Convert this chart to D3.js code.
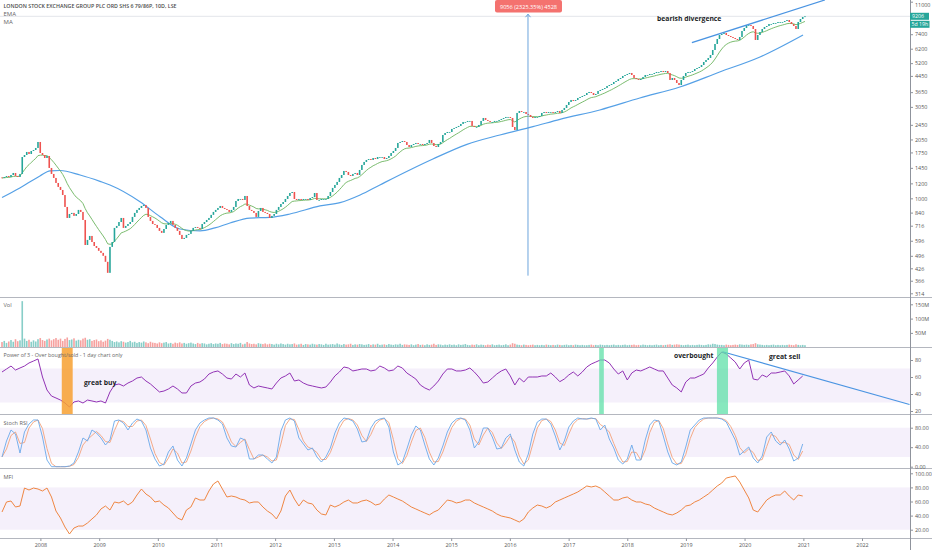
<!DOCTYPE html>
<html><head><meta charset="utf-8">
<script src="https://cdn.jsdelivr.net/npm/d3@7"></script>
<style>html,body{margin:0;padding:0;background:#fff;}svg{display:block;font-family:"Open Sans","Noto Sans",sans-serif;}</style>
</head><body><svg id="c" width="932" height="550"></svg>
<script>
// ---------------- DATA ----------------
const barStart = "2007-05-07";
const barStepDays = 14;           // 10 trading-day bars
const firstOpen = 1290;
const closes = [
1282,1297,1313,1297,1329,1362,1313,1297,1346,1655,
1696,1760,1717,1781,1803,1848,1988,1738,1696,1635,
1676,1448,1346,1282,1206,1149,1107,1041,900,787,
826,837,807,826,868,847,768,566,602,632,
587,559,546,527,514,496,461,403,553,587,
697,714,749,787,697,714,731,749,797,837,
868,889,911,922,889,797,759,731,723,697,
672,656,688,723,740,759,723,697,672,640,
609,617,640,648,672,697,705,697,688,731,
749,768,787,817,847,868,889,911,889,878,
868,847,868,900,968,992,992,980,1029,911,
868,857,837,797,857,889,847,837,826,787,
807,826,868,900,933,956,992,1029,1067,1080,
992,980,992,980,992,992,980,1004,1016,1067,
980,980,992,992,992,1029,1080,1135,1177,1221,
1282,1329,1396,1379,1329,1313,1346,1362,1329,1413,
1502,1558,1596,1615,1596,1635,1615,1655,1655,1655,
1615,1635,1676,1738,1781,1848,1964,1988,2012,1988,
1916,1870,1916,1940,1964,1940,1940,1916,1940,1964,
2037,1964,1893,1870,1940,1988,2165,2218,2246,2246,
2330,2358,2387,2417,2476,2537,2537,2569,2569,2417,
2387,2387,2446,2569,2664,2600,2569,2537,2537,2569,
2569,2600,2632,2664,2697,2697,2664,2387,2301,2832,
2901,2866,2866,2797,2763,2697,2664,2697,2697,2730,
2832,2866,2832,2866,2866,2832,2866,2901,2832,2937,
3010,3122,3238,3318,3278,3318,3400,3441,3484,3526,
3613,3658,3613,3526,3570,3703,3748,3794,3840,3935,
3983,4032,4132,4183,4286,4339,4446,4500,4555,4611,
4500,4339,4286,4234,4286,4392,4500,4500,4555,4555,
4611,4668,4668,4725,4668,4725,4611,4234,4339,4234,
4082,3983,4234,4446,4611,4668,4668,4725,4841,4901,
4961,5083,5273,5403,5537,5743,6104,6568,6980,7329,
7419,7510,7329,7240,7153,7066,6980,6896,7153,7696,
7982,8279,8279,8179,7885,6896,7329,7602,7885,8080,
8179,8381,8381,8484,8484,8588,8588,8588,8693,8800,
8588,8381,8179,7885,8588,8907,9127,9206];
const volumesM = [
18,22,15,20,25,19,28,21,24,161,30,22,26,19,24,20,28,32,25,22,
27,30,24,28,32,26,30,22,29,34,25,27,31,23,26,24,30,33,26,28,
22,25,27,21,24,19,23,29,26,22,18,20,17,21,19,16,18,22,17,19,
15,18,16,20,17,14,19,16,15,13,17,14,16,18,13,15,12,16,14,17,
13,15,12,14,16,13,11,15,12,14,13,10,12,14,11,13,12,15,11,13,
12,10,14,11,13,12,15,10,12,18,13,11,12,10,14,12,11,13,10,12,
11,9,12,10,13,11,9,12,10,11,13,9,10,12,8,11,10,9,12,10,
9,11,10,8,12,9,10,11,9,13,10,8,11,9,10,12,8,10,9,11,
10,8,9,11,8,10,9,12,8,9,10,8,11,9,8,10,9,12,8,10,
9,8,10,7,9,11,8,9,7,10,8,9,12,8,10,9,7,9,8,10,
8,9,7,10,8,9,11,8,7,9,8,10,7,9,8,7,9,8,10,7,
8,9,7,8,10,7,9,14,12,9,8,7,9,8,7,8,9,7,8,7,
8,7,9,8,7,8,7,9,8,7,8,9,7,8,7,9,8,7,8,7,
7,8,9,7,8,7,9,8,7,8,7,8,9,7,8,7,8,9,7,8,
8,9,7,8,7,9,8,7,8,7,8,9,7,8,7,8,9,10,8,9,
10,9,8,7,8,9,7,8,7,8,9,8,7,8,10,9,12,11,9,8,
8,7,9,8,7,8,9,8,10,9,8,9,8,10,11,14,10,9,8,7,
8,7,8,9,7,8,7,8,7,8,9,8,7,10,8,7,8,7];
const indicatorStep = 2;          // one indicator value every 2nd bar
const power3 = [
65.9,69.4,72.9,68.2,70.6,72.9,76.5,78.8,81.2,60,
44.7,37.6,35.3,32.9,29.4,24.7,30.6,31.8,29.4,32.9,
31.8,30.6,31.8,29.4,42.4,50.6,51.8,49.4,52.9,55.3,
58.8,60,55.3,51.8,47.1,42.4,43.5,45.9,49.4,45.9,
41.2,41.2,49.4,52.9,54.1,57.6,63.5,65.9,67.1,63.5,
58.8,57.6,63.5,60,64.7,50.6,47.1,49.4,48.2,47.1,
45.9,52.9,58.8,61.2,64.7,55.3,56.5,52.9,50.6,49.4,
48.2,47.1,48.2,54.1,61.2,65.9,71.8,70.6,67.1,68.2,
69.4,69.4,67.1,68.2,72.9,70.6,67.1,68.2,72.9,70.6,
64.7,61.2,57.6,50.6,47.1,44.7,49.4,55.3,63.5,69.4,
69.4,67.1,67.1,68.2,70.6,65.9,60,52.9,54.1,58.8,
63.5,67.1,69.4,61.2,50.6,58.8,54.1,60,60,60,
61.2,61.2,64.7,60,54.5,57.6,62.4,65.9,61.2,65.9,
71.8,75.3,77.6,80,80,76.5,69.4,63.5,67.1,56.5,
64.7,68.2,67.1,69.4,71.8,69.4,67.1,67.1,58.8,50.6,
47.1,42.4,54.1,58.8,58.8,61.2,63.5,70.6,76.5,83.5,
89.4,87.1,82.4,77.6,69.4,76.5,80,57.6,56.5,62.4,
60,64.7,64.7,65.9,67.1,61.2,51.8,56.5,61.2];
const stochK = [
19.9,52.7,75.3,67.1,28.1,71.2,87.6,95.8,95.8,60.9,
13.7,0,0,0,0,1.4,7.6,30.2,58.9,52.7,
75.3,69.1,58.9,44.5,54.8,93.7,95.8,89.6,75.3,89.6,
97.8,93.7,75.3,38.4,15.8,1.4,5.5,30.2,42.5,13.7,
1.4,17.8,46.6,75.3,89.6,95.8,99.9,99.9,95.8,87.6,
58.9,42.5,40.4,58.9,54.8,15.8,15.8,24,24,15.8,
7.6,19.9,73.2,95.8,99.9,93.7,58.9,46.6,34.3,38.4,
19.9,9.6,19.9,38.4,69.1,89.6,99.9,97.8,93.7,77.3,
50.7,52.7,79.4,93.7,97.8,99.9,81.4,30.2,3.5,9.6,
36.3,65,83.5,75.3,44.5,15.8,3.5,17.8,42.5,71.2,
89.6,97.8,99.9,95.8,75.3,38.4,50.7,79.4,79.4,60.9,
36.3,38.4,58.9,67.1,34.3,9.6,1.4,26,67.1,91.7,
97.8,97.8,87.6,63,34.3,52.7,81.4,93.7,99.9,97.8,
97.8,99.9,97.8,75.3,85.5,56.8,38.4,13.7,5.5,15.8,
44.5,13.7,13.7,54.8,85.5,95.8,93.7,63,30.2,7.6,
3.5,9.6,40.4,75.3,85.5,95.8,99.9,99.9,99.9,99.9,
97.8,91.7,73.2,54.8,24,32.2,40.4,17.8,7.6,21.9,
60.9,71.2,52.7,44.5,54.8,36.3,11.7,17.8,46.6];
const mfi = [
45.1,59.3,60.7,52.2,53.6,79.1,76.3,79.1,77.7,74.9,
79.1,66.4,46.5,36.6,23.8,13.9,22.4,25.2,25.2,29.5,
35.2,40.9,49.4,53.6,47.9,59.3,57.9,60.7,55,59.3,
69.2,77.7,70.6,66.4,59.3,60.7,55,50.8,43.7,36.6,
33.8,47.9,52.2,65,62.1,62.1,74.9,84.8,89.1,77.7,
66.4,67.8,66.4,63.5,62.1,57.9,59.3,59.3,52.2,46.5,
42.3,35.2,46.5,67.8,76.3,63.5,53.6,62.1,57.9,56.5,
47.9,42.3,40.9,55,52.2,55,59.3,62.1,57.9,57.9,
60.7,62.1,59.3,55,56.5,63.5,69.2,66.4,63.5,60.7,
56.5,52.2,49.4,46.5,43.7,40.9,45.1,47.9,55,62.1,
60.7,57.9,59.3,62.1,62.1,57.9,55,52.2,49.4,46.5,
42.3,39.4,38,36.6,33.8,30.9,35.2,45.1,50.8,55,
53.6,50.8,53.6,59.3,62.1,65,67.8,70.6,73.5,77.7,
82,80.6,82,79.1,73.5,67.8,62.1,62.1,65,66.4,
62.1,59.3,59.3,56.5,55,50.8,47.9,45.1,42.3,40.9,
43.7,47.9,53.6,55,59.3,62.1,66.4,70.6,76.3,82,
86.2,93.3,94.8,96.2,87.7,76.3,65,47.9,45.1,53.6,
62.1,66.4,69.2,69.2,74.9,67.8,62.1,69.2,67.8];
const maDates = ["2007-05-07","2007-08-26","2007-12-29","2008-03-01","2008-05-02","2008-09-04","2009-01-06","2009-03-09","2009-09-12","2010-01-15","2010-05-19","2010-09-21","2010-12-22","2011-03-26","2011-07-27","2011-11-29","2012-04-02","2012-10-06","2013-02-08","2013-06-13","2013-10-14","2014-04-18","2014-09-09","2015-04-09","2015-10-31","2016-05-24","2016-11-08","2017-07-14","2018-03-20","2018-11-24","2019-07-30","2020-04-06","2020-12-30"];
const maValues = [1010,1135,1313,1397,1404,1329,1230,1177,960,799,688,672,697,740,786,793,826,911,948,1041,1177,1413,1615,1932,2165,2395,2621,2937,3400,3887,4667,5605,7328];
const emaPeriod = 12;
const priceTicks = [11000,7400,6200,5200,4450,3650,3050,2450,2050,1750,1450,1200,1000,840,716,596,496,426,366,314];
const volTicks = [50,100,150];
const powTicks = [20,40,60,80];
const stochTicks = [0,40,80];
const mfiTicks = [20,40,60,80,100];
const yearTicks = [2008,2009,2010,2011,2012,2013,2014,2015,2016,2017,2018,2019,2020,2021,2022];
const channelTop = {d:["2019-02-07","2021-05-15"], v:[6673,11230]};
const measure = {d:"2016-04-23", lo:389.4, hi:9445, label:"9056 (2325.35%) 4528"};
const powTrend = {d:["2019-08-17","2022-10-24"], v:[89.8,27.6]};
const highlights = [
  {from:"2008-05-13", to:"2008-07-20", color:"#f7a030", op:0.85},
  {from:"2017-07-10", to:"2017-08-08", color:"#5fe0a8", op:0.75},
  {from:"2019-07-13", to:"2019-09-20", color:"#5fe0a8", op:0.75}];
const title = "LONDON STOCK EXCHANGE GROUP PLC ORD SHS 6 79/86P, 10D, LSE";

// ---------------- SETUP ----------------
const parse = d3.timeParse("%Y-%m-%d");
const svg = d3.select("#c");
const AX = 910;
const x = d3.scaleTime().domain([new Date(2008,0,1), new Date(2022,0,1)]).range([40.4, 862]);
const yP = d3.scaleLog().domain([314, 11000]).range([293.3, 1.7]);
const yV = d3.scaleLinear().domain([0,150]).range([347.2, 304.3]);
const yPow = d3.scaleLinear().domain([20,80]).range([411,360]);
const yS = d3.scaleLinear().domain([0,80]).range([466.7,427.7]);
const yM = d3.scaleLinear().domain([20,100]).range([529.7,473.3]);

const t0 = parse(barStart);
const barDates = closes.map((_,i)=>d3.timeDay.offset(t0, i*barStepDays));
const opens = closes.map((c,i)=> i ? closes[i-1] : firstOpen);
const indDates = power3.map((_,j)=>barDates[j*indicatorStep]);

const panes = {main:[0,297], vol:[298,347], pow:[348,414], stoch:[415,468], mfi:[469,538]};
const defs = svg.append("defs");
Object.entries(panes).forEach(([k,[a,b]])=>{
  defs.append("clipPath").attr("id","cp-"+k).append("rect").attr("x",0).attr("y",a).attr("width",AX).attr("height",b-a);
});
const G = k => svg.append("g").attr("clip-path",`url(#cp-${k})`);

const green="#26a69a", red="#ef5350";

// ---------------- MAIN PANE ----------------
const gm = G("main");
gm.append("line").attr("x1",0).attr("x2",AX).attr("y1",yP(closes[closes.length-1])).attr("y2",yP(closes[closes.length-1]))
  .attr("stroke","#e3e5ea").attr("stroke-width",1);
gm.append("path").datum(maDates.map((d,i)=>[parse(d),maValues[i]]))
  .attr("d",d3.line().x(d=>x(d[0])).y(d=>yP(d[1])).curve(d3.curveMonotoneX))
  .attr("fill","none").attr("stroke","#55a0e6").attr("stroke-width",1.2);
const kE = 2/(emaPeriod+1); const ema=[];
closes.forEach((c,i)=>ema.push(i? c*kE+ema[i-1]*(1-kE) : c));
gm.append("path").datum(ema).attr("d",d3.line().x((d,i)=>x(barDates[i])).y(d=>yP(d)))
  .attr("fill","none").attr("stroke","#6cb45f").attr("stroke-width",0.9);
gm.selectAll("rect.c").data(closes).join("rect").attr("class","c")
  .attr("x",(d,i)=>x(barDates[i])-0.8).attr("width",1.6)
  .attr("y",(d,i)=>yP(Math.max(d,opens[i])))
  .attr("height",(d,i)=>Math.max(0.8, Math.abs(yP(d)-yP(opens[i]))))
  .attr("fill",(d,i)=> d>=opens[i]?green:red);
gm.append("line").attr("x1",x(parse(channelTop.d[0]))).attr("y1",yP(channelTop.v[0]))
  .attr("x2",x(parse(channelTop.d[1]))).attr("y2",yP(channelTop.v[1]))
  .attr("stroke","#4a94e2").attr("stroke-width",1.3);
const mx = x(parse(measure.d));
svg.append("line").attr("x1",mx).attr("x2",mx).attr("y1",yP(measure.hi)).attr("y2",yP(measure.lo))
  .attr("stroke","#5b9bd8").attr("stroke-width",0.9);
svg.append("path").attr("d",`M${mx-2.5},${yP(measure.hi)+3}L${mx},${yP(measure.hi)}L${mx+2.5},${yP(measure.hi)+3}`)
  .attr("fill","none").attr("stroke","#5b9bd8").attr("stroke-width",0.9);
svg.append("rect").attr("x",mx-33).attr("y",0).attr("width",67).attr("height",12.5).attr("rx",2)
  .attr("fill","#f4726f");
svg.append("text").attr("x",mx+0.5).attr("y",8.6).attr("text-anchor","middle").attr("font-size",5.6)
  .attr("fill","#fff").text(measure.label);
svg.append("text").attr("x",657).attr("y",20.5).attr("font-size",6.8).attr("font-weight","bold")
  .attr("fill","#1b1e27").text("bearish divergence");
svg.append("text").attr("x",3.5).attr("y",8.4).attr("font-size",5.6).attr("font-weight","600").attr("fill","#4a4a4a")
  .attr("textLength",173).attr("lengthAdjust","spacingAndGlyphs").text(title);
svg.append("text").attr("x",3.5).attr("y",16.2).attr("font-size",6).attr("fill","#666").text("EMA");
svg.append("text").attr("x",3.5).attr("y",24.2).attr("font-size",6).attr("fill","#666").text("MA");

// ---------------- VOLUME ----------------
const gv = G("vol");
gv.selectAll("rect").data(volumesM).join("rect")
  .attr("x",(d,i)=>x(barDates[i])-0.8).attr("width",1.6)
  .attr("y",d=>yV(d)).attr("height",d=>yV(0)-yV(d))
  .attr("fill",(d,i)=> closes[i]>=opens[i]?green:red).attr("opacity",0.55);
svg.append("text").attr("x",3.5).attr("y",307).attr("font-size",5.6).attr("fill","#666").text("Vol");

// ---------------- POWER OF 3 ----------------
const gp = G("pow");
gp.append("rect").attr("x",0).attr("width",AX).attr("y",yPow(70)).attr("height",yPow(30)-yPow(70)).attr("fill","#f5f0fb");
highlights.forEach(h=>{
  svg.append("rect").attr("x",x(parse(h.from))).attr("width",x(parse(h.to))-x(parse(h.from)))
    .attr("y",347).attr("height",68).attr("fill",h.color).attr("opacity",h.op);
});
gp.append("path").datum(power3).attr("d",d3.line().x((d,i)=>x(indDates[i])).y(d=>yPow(d)))
  .attr("fill","none").attr("stroke","#9233b5").attr("stroke-width",1);
gp.append("line").attr("x1",x(parse(powTrend.d[0]))).attr("y1",yPow(powTrend.v[0]))
  .attr("x2",x(parse(powTrend.d[1]))).attr("y2",yPow(powTrend.v[1]))
  .attr("stroke","#4a94e2").attr("stroke-width",1.1);
svg.append("text").attr("x",3.5).attr("y",357).attr("font-size",5.6).attr("fill","#666")
  .attr("textLength",119).attr("lengthAdjust","spacingAndGlyphs").text("Power of 3 - Over bought/sold - 1 day chart only");
[["great buy",84,385],["overbought",674,357.5],["great sell",769,359]].forEach(([t,tx,ty])=>{
  svg.append("text").attr("x",tx).attr("y",ty).attr("font-size",6.8).attr("font-weight","bold").attr("fill","#1b1e27").text(t);
});

// ---------------- STOCH RSI ----------------
const gs = G("stoch");
gs.append("rect").attr("x",0).attr("width",AX).attr("y",yS(80)).attr("height",yS(20)-yS(80)).attr("fill","#f5f0fb");
const stochD = stochK.map((d,i)=> i? (d+stochK[i-1])/2 : d);
gs.append("path").datum(stochD).attr("d",d3.line().x((d,i)=>x(indDates[i])).y(d=>yS(d)))
  .attr("fill","none").attr("stroke","#f3a27a").attr("stroke-width",0.9);
gs.append("path").datum(stochK).attr("d",d3.line().x((d,i)=>x(indDates[i])).y(d=>yS(d)))
  .attr("fill","none").attr("stroke","#6aa8ea").attr("stroke-width",0.9);
svg.append("text").attr("x",3.5).attr("y",425).attr("font-size",5.6).attr("fill","#666").text("Stoch RSI");

// ---------------- MFI ----------------
const gf = G("mfi");
gf.append("rect").attr("x",0).attr("width",AX).attr("y",yM(80)).attr("height",yM(20)-yM(80)).attr("fill","#f5f0fb");
gf.append("path").datum(mfi).attr("d",d3.line().x((d,i)=>x(indDates[i])).y(d=>yM(d)))
  .attr("fill","none").attr("stroke","#ef8642").attr("stroke-width",1);
svg.append("text").attr("x",3.5).attr("y",479).attr("font-size",5.6).attr("fill","#666").text("MFI");

// ---------------- SEPARATORS & AXES ----------------
[297.5,347.5,414.5,468.5,538.5].forEach(y=>{
  svg.append("line").attr("x1",0).attr("x2",932).attr("y1",y).attr("y2",y).attr("stroke","#b4b7bf").attr("stroke-width",1.2);
});
svg.append("line").attr("x1",AX+0.5).attr("x2",AX+0.5).attr("y1",0).attr("y2",550).attr("stroke","#8f939c").attr("stroke-width",1);

function rightAxis(scale, ticks, fmt){
  const g = svg.append("g").attr("transform",`translate(${AX+0.5},0)`);
  const ax = d3.axisRight(scale).tickValues(ticks).tickFormat(fmt).tickSize(2.5).tickPadding(2);
  g.call(ax);
  g.select(".domain").remove();
  g.selectAll("line").attr("stroke","#8f939c");
  g.selectAll("text").attr("font-size",5.4).attr("fill","#555").attr("font-family","'Open Sans',sans-serif");
  return g;
}
const gPriceAxis = rightAxis(yP, priceTicks, d=>String(d));
// keep the top label fully inside the picture
gPriceAxis.selectAll(".tick").filter(d=>d===11000).select("text").attr("dy","0.95em");
rightAxis(yV, volTicks, d=>d+"M");
rightAxis(yPow, powTicks, d=>String(d));
rightAxis(yS, stochTicks, d=>d.toFixed(2));
rightAxis(yM, mfiTicks, d=>d.toFixed(2));

const lastY = yP(closes[closes.length-1]);
svg.append("rect").attr("x",AX).attr("y",lastY-3.5).attr("width",19).attr("height",7).attr("fill",green);
svg.append("text").attr("x",AX+2).attr("y",lastY+2).attr("font-size",5.2).attr("fill","#fff").text(String(closes[closes.length-1]));
svg.append("rect").attr("x",AX).attr("y",lastY+4.5).attr("width",19.5).attr("height",7).attr("fill",green);
svg.append("text").attr("x",AX+1.5).attr("y",lastY+10).attr("font-size",5.2).attr("fill","#fff").text("5d 19h");

const gx = svg.append("g").attr("transform","translate(0,538.5)");
gx.call(d3.axisBottom(x).tickValues(yearTicks.map(y=>new Date(y,0,1))).tickFormat(d3.timeFormat("%Y")).tickSize(2.5).tickPadding(2.5));
gx.select(".domain").remove();
gx.selectAll("line").attr("stroke","#8f939c");
gx.selectAll("text").attr("font-size",5.4).attr("fill","#555").attr("font-family","'Open Sans',sans-serif");
</script></body></html>
